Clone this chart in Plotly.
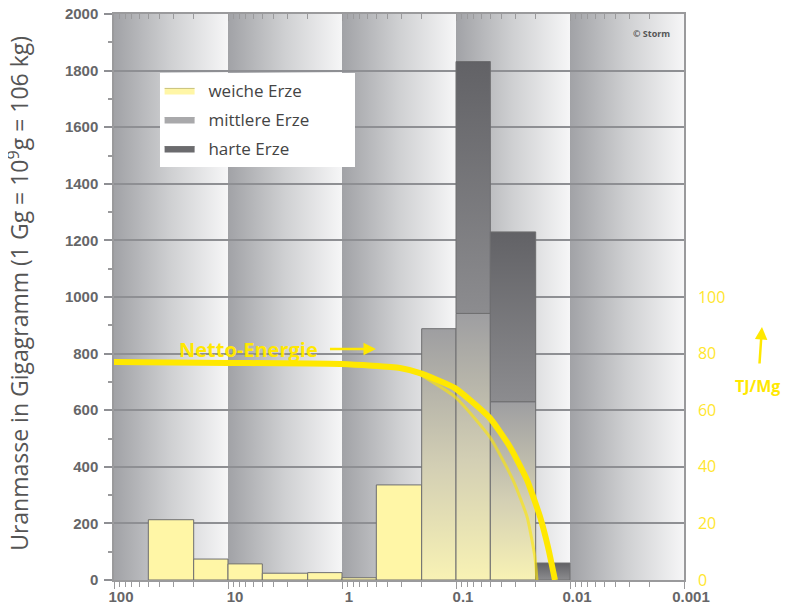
import base64
import plotly.graph_objects as go

# ---------------- data ----------------
bin_hi = [50, 20, 10, 5, 2, 1, 0.5, 0.2, 0.1, 0.05, 0.02]
bin_lo = [20, 10, 5, 2, 1, 0.5, 0.2, 0.1, 0.05, 0.02, 0.01]
weiche = [213, 74, 57, 24, 26, 8, 336, 0, 0, 0, 0]
mittlere = [0, 0, 0, 0, 0, 0, 0, 888, 942, 630, 0]
harte = [0, 0, 0, 0, 0, 0, 0, 0, 890, 600, 60]

energy_x = [100, 10, 1, 0.31, 0.207, 0.102, 0.0504, 0.0336, 0.0238, 0.0183, 0.0156, 0.01355]
energy_y = [77.0, 76.7, 76.3, 74.9, 73.1, 67.8, 57.2, 47.0, 35.3, 22.3, 11.7, 0]
energy2_x = [0.3, 0.238, 0.102, 0.0504, 0.0316, 0.0238, 0.0203, 0.0195]
energy2_y = [74.9, 73.9, 64.7, 50.5, 35.3, 22.3, 8.1, 0]

series_names = ["weiche Erze", "mittlere Erze", "harte Erze"]
x_tickvals = [100, 10, 1, 0.1, 0.01, 0.001]
x_ticktext = ["100", "10", "1", "0.1", "0.01", "0.001"]
y2_tickvals = [0, 20, 40, 60, 80, 100]

YELLOW = "#FFE800"
GRID = "#8e8f93"
AXIS = "#9a9a9c"
TICKTXT = "#666668"

fig = go.Figure()

# ---------------- background: one grey->white gradient per decade (SVG image, below grid) ----------------
n_dec = len(x_tickvals) - 1
rects = "".join("<rect x='%d' y='0' width='1' height='1' fill='url(#g)'/>" % i for i in range(n_dec))
svg = ("<svg xmlns='http://www.w3.org/2000/svg' width='570' height='566' viewBox='0 0 %d 1' "
       "preserveAspectRatio='none'><defs><linearGradient id='g' x1='0' x2='1' y1='0' y2='0'>"
       "<stop offset='0' stop-color='#a1a2a6'/><stop offset='0.5' stop-color='#cfd0d2'/>"
       "<stop offset='1' stop-color='#f6f6f7'/></linearGradient></defs>%s</svg>") % (n_dec, rects)
bg_src = "data:image/svg+xml;base64," + base64.b64encode(svg.encode()).decode()

# ---------------- bars as polygons ----------------
def add_bar(lo, hi, base, top, name, fill=None, grad=None):
    kw = dict(x=[hi, hi, lo, lo, hi], y=[base, top, top, base, base], mode="lines",
              fill="toself", line=dict(color="#6e6e70", width=1), name=name,
              legendgroup=name, showlegend=False, hoverinfo="skip")
    if grad is not None:
        kw["fillgradient"] = dict(type="vertical", colorscale=grad)
        kw["fillcolor"] = grad[-1][1]
    else:
        kw["fillcolor"] = fill
    fig.add_trace(go.Scatter(**kw))

for lo, hi, v in zip(bin_lo, bin_hi, weiche):
    if v > 0:
        add_bar(lo, hi, 0, v, series_names[0], fill="#FFF6A6")
for lo, hi, w, v in zip(bin_lo, bin_hi, weiche, mittlere):
    if v > 0:
        add_bar(lo, hi, w, w + v, series_names[1],
                grad=[[0, "#f8f2b4"], [0.45, "#d3cfb4"], [1, "#9e9ea1"]])
for lo, hi, w, m, v in zip(bin_lo, bin_hi, weiche, mittlere, harte):
    if v > 0:
        add_bar(lo, hi, w + m, w + m + v, series_names[2],
                grad=[[0, "#8c8c8f"], [1, "#626266"]])

# legend entries (solid swatches like the original key)
legend_fill = ["#FFF6A6", "#A9A9AB", "#6B6B6E"]
legend_line = ["#C9C17A", "#A9A9AB", "#6B6B6E"]
for nm, fc, lc in zip(series_names, legend_fill, legend_line):
    fig.add_trace(go.Scatter(x=[None], y=[None], mode="lines", fill="toself", fillcolor=fc,
                             line=dict(color=lc, width=1), name="\u00a0\u00a0" + nm + "\u00a0" * 9,
                             legendgroup=nm, showlegend=True, hoverinfo="skip"))

# ---------------- Netto-Energie curves ----------------
fig.add_trace(go.Scatter(x=energy2_x, y=energy2_y, mode="lines", xaxis="x2", yaxis="y2",
                         line=dict(color="rgba(255,232,0,0.6)", width=3, shape="spline", smoothing=0.5),
                         showlegend=False, hoverinfo="skip"))
fig.add_trace(go.Scatter(x=energy_x, y=energy_y, mode="lines", xaxis="x2", yaxis="y2",
                         line=dict(color=YELLOW, width=6, shape="spline", smoothing=0.5),
                         showlegend=False, hoverinfo="skip"))

minor_vals = [m * 10 ** e for e in [1, 0, -1, -2, -3] for m in range(2, 10)]

fig.update_layout(
    width=786, height=606,
    margin=dict(l=106, r=110, t=6, b=34, autoexpand=False),
    paper_bgcolor="white", plot_bgcolor="white",
    images=[dict(source=bg_src, xref="paper", yref="paper", x=0, y=1, sizex=1, sizey=1,
                 xanchor="left", yanchor="top", sizing="stretch", layer="below")],
    font=dict(family="Open Sans, Liberation Sans, sans-serif"),
    xaxis=dict(type="log", range=[2, -3], tickmode="array", tickvals=x_tickvals, ticktext=x_ticktext,
               ticks="outside", ticklen=7, tickcolor=AXIS, tickwidth=1, automargin=False,
               minor=dict(tickmode="array", tickvals=minor_vals, ticks="outside", ticklen=5,
                          tickcolor=AXIS, showgrid=False),
               showgrid=False, zeroline=False, showline=True, linecolor=AXIS, linewidth=1.5,
               tickfont=dict(family="Liberation Sans, Arial, sans-serif", size=15, color=TICKTXT, weight="bold"),
               ticklabelshift=-7, ticklabelstandoff=-5),
    xaxis2=dict(type="log", range=[2, -3], overlaying="x", side="top", tickmode="array",
                tickvals=x_tickvals, showticklabels=False, ticks="inside", ticklen=7, tickcolor=AXIS,
                automargin=False,
                minor=dict(tickmode="array", tickvals=minor_vals, ticks="inside", ticklen=5,
                           tickcolor=AXIS, showgrid=False),
                showgrid=False, zeroline=False, showline=True, linecolor=AXIS, linewidth=1.5),
    yaxis=dict(range=[0, 2000], tick0=0, dtick=200, ticks="outside", ticklen=8, tickcolor=GRID, tickwidth=2,
               minor=dict(dtick=100, ticks="outside", ticklen=4, tickcolor=AXIS, showgrid=False),
               showgrid=True, gridcolor=GRID, gridwidth=2, zeroline=False, automargin=False,
               showline=True, linecolor=AXIS, linewidth=1.5, ticklabelstandoff=3,
               ticklabeloverflow="allow",
               tickfont=dict(family="Liberation Sans, Arial, sans-serif", size=15, color=TICKTXT, weight="bold")),
    yaxis2=dict(range=[0, 200], overlaying="y", side="right", tickmode="array", tickvals=y2_tickvals,
                ticks="outside", ticklen=9, tickcolor="rgba(0,0,0,0)", showgrid=False, zeroline=False,
                showline=True, linecolor=AXIS, linewidth=1.5, automargin=False,
                tickfont=dict(family="Open Sans, sans-serif", size=16, color="#FFE62E")),
    legend=dict(x=0.08, y=0.896, xanchor="left", yanchor="top", bgcolor="white",
                font=dict(size=17, color="#444444"), tracegroupgap=4, itemwidth=30),
    annotations=[
        dict(text="Uranmasse in Gigagramm (1 Gg = 10<sup>9</sup>g = 106 kg)", xref="paper", yref="paper",
             x=-0.167, y=0.507, xanchor="center", yanchor="middle", textangle=-90, showarrow=False,
             font=dict(size=23, color="#555555")),
        dict(text="<b>Netto-Energie</b>", xref="paper", yref="paper", x=0.4596, y=0.408,
             ax=-127, ay=0, showarrow=True, arrowhead=2, arrowsize=1, arrowwidth=2.5,
             arrowcolor=YELLOW, startstandoff=10, font=dict(size=20, color=YELLOW)),
        dict(text="<b>TJ/Mg</b>", xref="paper", yref="paper", x=1.1368, y=0.447,
             ax=-4, ay=59, showarrow=True, arrowhead=2, arrowsize=1, arrowwidth=2.5,
             arrowcolor=YELLOW, startstandoff=10, font=dict(size=16, color=YELLOW)),
        dict(text="<b>© Storm</b>", xref="paper", yref="paper", x=0.979, y=0.966, xanchor="right",
             yanchor="middle", showarrow=False, font=dict(size=9, color="#555555")),
    ],
)

fig.write_html("out.html")
